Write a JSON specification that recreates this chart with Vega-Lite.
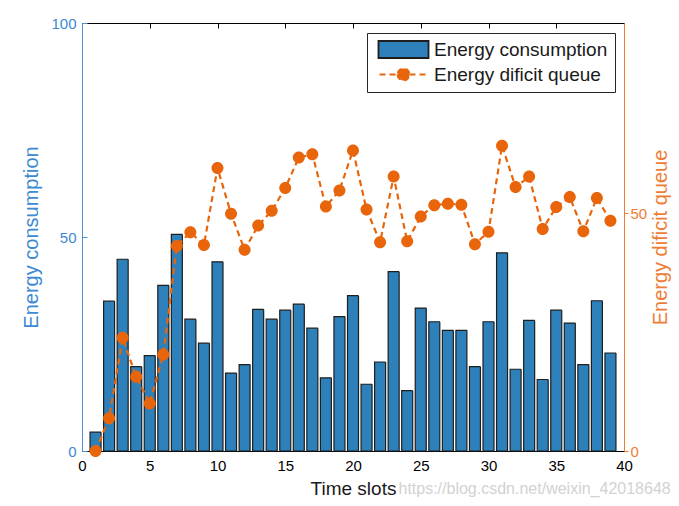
{
  "$schema": "https://vega.github.io/schema/vega-lite/v6.json",
  "width": 542,
  "height": 428,
  "autosize": "none",
  "padding": {"left": 82, "top": 23, "right": 55, "bottom": 55},
  "background": "white",
  "config": {
    "font": "Liberation Sans",
    "view": {"stroke": null},
    "axis": {"grid": false, "labelFlush": false, "labelFont": "Liberation Sans", "titleFont": "Liberation Sans", "titleFontWeight": "normal"},
    "legend": {
      "symbolStrokeWidth": 1.8,
      "labelFontSize": 19,
      "labelColor": "#1a1a1a",
      "labelLimit": 0,
      "symbolSize": 144,
      "symbolOffset": 20,
      "labelOffset": 21,
      "padding": 7,
      "rowPadding": 2,
      "strokeColor": "#262626",
      "fillColor": "white",
      "symbolOpacity": 1
    }
  },
  "title": {
    "text": "https://blog.csdn.net/weixin_42018648",
    "orient": "bottom",
    "anchor": "end",
    "fontSize": 16,
    "fontWeight": "normal",
    "color": "#d2d2d2",
    "offset": -17
  },
  "data": {
    "values": [
      {"t": 1, "energy": 4.4, "queue": 0.0},
      {"t": 2, "energy": 35.0, "queue": 6.9},
      {"t": 3, "energy": 44.8, "queue": 23.8},
      {"t": 4, "energy": 19.7, "queue": 15.6},
      {"t": 5, "energy": 22.3, "queue": 10.0},
      {"t": 6, "energy": 38.7, "queue": 20.3},
      {"t": 7, "energy": 50.6, "queue": 43.1},
      {"t": 8, "energy": 30.8, "queue": 46.0},
      {"t": 9, "energy": 25.2, "queue": 43.3},
      {"t": 10, "energy": 44.2, "queue": 59.5},
      {"t": 11, "energy": 18.2, "queue": 49.9},
      {"t": 12, "energy": 20.2, "queue": 42.3},
      {"t": 13, "energy": 33.1, "queue": 47.4},
      {"t": 14, "energy": 30.8, "queue": 50.5},
      {"t": 15, "energy": 32.9, "queue": 55.3},
      {"t": 16, "energy": 34.3, "queue": 61.7},
      {"t": 17, "energy": 28.7, "queue": 62.4},
      {"t": 18, "energy": 17.1, "queue": 51.4},
      {"t": 19, "energy": 31.4, "queue": 54.8},
      {"t": 20, "energy": 36.3, "queue": 63.2},
      {"t": 21, "energy": 15.6, "queue": 50.8},
      {"t": 22, "energy": 20.8, "queue": 43.9},
      {"t": 23, "energy": 41.9, "queue": 57.7},
      {"t": 24, "energy": 14.1, "queue": 44.1},
      {"t": 25, "energy": 33.4, "queue": 49.3},
      {"t": 26, "energy": 30.2, "queue": 51.7},
      {"t": 27, "energy": 28.2, "queue": 52.0},
      {"t": 28, "energy": 28.2, "queue": 51.8},
      {"t": 29, "energy": 19.7, "queue": 43.5},
      {"t": 30, "energy": 30.2, "queue": 46.1},
      {"t": 31, "energy": 46.3, "queue": 64.2},
      {"t": 32, "energy": 19.1, "queue": 55.5},
      {"t": 33, "energy": 30.5, "queue": 57.7},
      {"t": 34, "energy": 16.7, "queue": 46.7},
      {"t": 35, "energy": 32.9, "queue": 51.3},
      {"t": 36, "energy": 29.9, "queue": 53.4},
      {"t": 37, "energy": 20.2, "queue": 46.2},
      {"t": 38, "energy": 35.1, "queue": 53.2},
      {"t": 39, "energy": 22.9, "queue": 48.4}
    ]
  },
  "layer": [
    {
      "mark": {"type": "bar", "size": 11, "strokeWidth": 1.2},
      "encoding": {
        "x": {
          "field": "t", "type": "quantitative",
          "scale": {"domain": [0, 40], "nice": false, "zero": false, "padding": 0},
          "axis": {
            "orient": "bottom", "values": [0, 5, 10, 15, 20, 25, 30, 35, 40],
            "domainColor": "#000000", "tickColor": "#000000", "tickSize": -5,
            "labelColor": "#000000", "labelFontSize": 15, "labelPadding": 12,
            "title": "Time slots", "titleFontSize": 19, "titleColor": "#1a1a1a", "titlePadding": 6
          }
        },
        "y": {
          "field": "energy", "type": "quantitative",
          "scale": {"domain": [0, 100], "nice": false},
          "axis": {
            "orient": "left", "values": [0, 50, 100],
            "domainColor": "#4d94d6", "tickColor": "#4d94d6", "tickSize": -5,
            "labelColor": "#3c8ad2", "labelFontSize": 15, "labelPadding": 11,
            "title": "Energy consumption", "titleFontSize": 20, "titleColor": "#3c8ad2", "titlePadding": 9
          }
        },
        "fill": {
          "datum": "Energy consumption",
          "scale": {"domain": ["Energy consumption", "Energy dificit queue"], "range": ["#2d80b9", "#e8650c"]},
          "legend": {"title": null, "orient": "none", "legendX": 285, "legendY": 10}
        },
        "stroke": {
          "datum": "Energy consumption",
          "scale": {"domain": ["Energy consumption", "Energy dificit queue"], "range": ["#1e1e1e", "#e8650c"]},
          "legend": {"title": null, "orient": "none", "legendX": 285, "legendY": 10}
        },
        "strokeDash": {
          "datum": "Energy consumption",
          "scale": {"domain": ["Energy consumption", "Energy dificit queue"], "range": [[1, 0], [6, 4]]},
          "legend": {"title": null, "orient": "none", "legendX": 285, "legendY": 10}
        }
      }
    },
    {
      "mark": {"type": "line", "strokeWidth": 2.2},
      "encoding": {
        "x": {
          "field": "t", "type": "quantitative",
          "scale": {"domain": [0, 40], "nice": false, "zero": false, "padding": 0},
          "axis": {
            "orient": "top", "values": [0, 5, 10, 15, 20, 25, 30, 35, 40],
            "domainColor": "#000000", "tickColor": "#000000", "tickSize": -5,
            "labels": false, "title": null
          }
        },
        "y": {
          "field": "queue", "type": "quantitative",
          "scale": {"domain": [0, 90], "nice": false},
          "axis": {
            "orient": "right", "values": [0, 50],
            "domainColor": "#ee7d36", "tickColor": "#ee7d36", "tickSize": 4,
            "labelColor": "#ee7d36", "labelFontSize": 15, "labelPadding": 2,
            "title": "Energy dificit queue", "titleFontSize": 20, "titleColor": "#ee7d36", "titleAngle": 270, "titlePadding": 24
          }
        },
        "stroke": {"datum": "Energy dificit queue"},
        "strokeDash": {"datum": "Energy dificit queue"}
      }
    },
    {
      "mark": {"type": "point", "filled": true, "size": 144, "strokeWidth": 0, "opacity": 1},
      "encoding": {
        "x": {
          "field": "t", "type": "quantitative",
          "scale": {"domain": [0, 40], "nice": false, "zero": false, "padding": 0},
          "axis": null
        },
        "y": {
          "field": "queue", "type": "quantitative",
          "scale": {"domain": [0, 90], "nice": false},
          "axis": null
        },
        "fill": {"datum": "Energy dificit queue"},
        "shape": {
          "datum": "Energy dificit queue",
          "scale": {"domain": ["Energy consumption", "Energy dificit queue"], "range": ["M-4.17,-1.42H4.17V1.42H-4.17Z", "M-4,0H4M-1,0A1,1 0 1,0 1,0A1,1 0 1,0 -1,0Z"]},
          "legend": {"title": null, "orient": "none", "legendX": 285, "legendY": 10}
        }
      }
    }
  ],
  "resolve": {"scale": {"y": "independent"}}
}
